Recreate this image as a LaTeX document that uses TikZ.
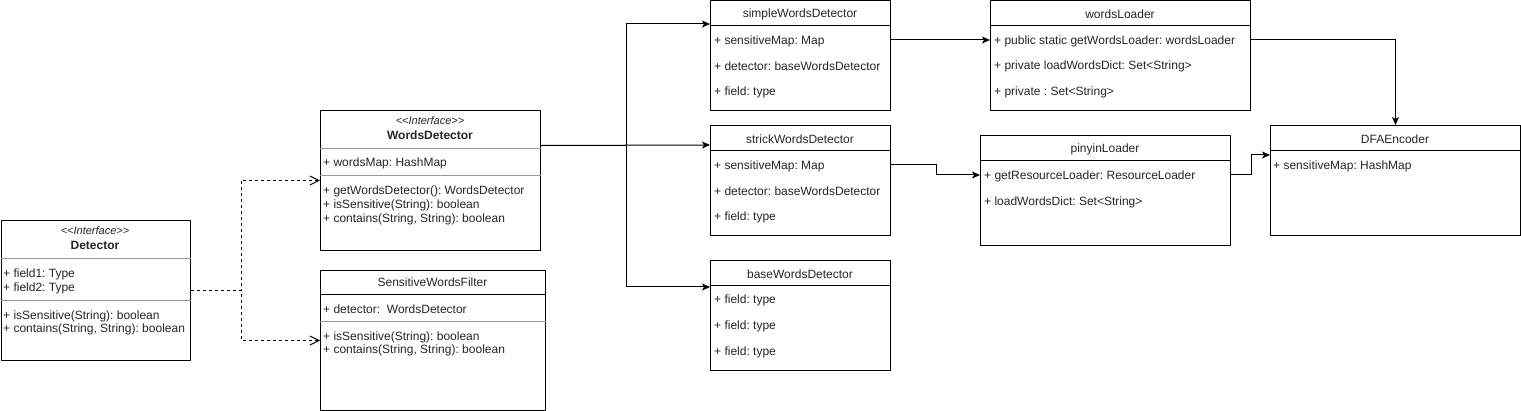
\documentclass[tikz,border=0pt]{standalone}
\usepackage{fontspec}
\setmainfont{Liberation Sans}
\usetikzlibrary{arrows.meta}
\frenchspacing
\begin{document}
\begin{tikzpicture}[x=1pt,y=-1pt,
  box/.style={draw, line width=1pt, fill=white, inner sep=0pt, anchor=north west},
  sepg/.style={draw=black!40, line width=1pt},
  sepb/.style={draw=black, line width=1pt},
  txt/.style={anchor=west, inner sep=0pt, yshift=-1pt, text=black!85, font=\fontsize{12}{14}\selectfont},
  ttl/.style={anchor=center, inner sep=0pt, yshift=-1pt, text=black!85, font=\fontsize{12}{14}\selectfont},
  ster/.style={anchor=center, inner sep=0pt, yshift=-0.5pt, text=black!85, font=\fontsize{11}{13}\selectfont\itshape},
  bttl/.style={anchor=center, inner sep=0pt, yshift=-1pt, text=black!85, font=\fontsize{12}{14}\selectfont\bfseries},
  dep/.style={draw, line width=1pt, dash pattern=on 3pt off 3pt, -{Straight Barb[length=9pt,width=9pt,line width=1pt]}},
  assoc/.style={draw, line width=1pt, -{Stealth[length=8pt,width=7pt,inset=2pt]}}]
\useasboundingbox (0,0) rectangle (1521,411);

% ---------- boxes ----------
\node[box, minimum width=189.5pt, minimum height=140pt] (det) at (0.5,220) {};
\node[box, minimum width=220pt, minimum height=140pt] (wd) at (320,110) {};
\node[box, minimum width=225pt, minimum height=140pt] (swf) at (320,270) {};
\node[box, minimum width=180pt, minimum height=109.5pt] (swd) at (710,0.5) {};
\node[box, minimum width=180pt, minimum height=110pt] (skd) at (710,125) {};
\node[box, minimum width=180pt, minimum height=110pt] (bwd) at (710,260) {};
\node[box, minimum width=260pt, minimum height=109.5pt] (wl) at (990,0.5) {};
\node[box, minimum width=250pt, minimum height=110pt] (pl) at (980,135) {};
\node[box, minimum width=250pt, minimum height=110pt] (dfa) at (1270,125) {};

% ---------- separators ----------
\draw[sepg] (det.west |- 0,259) -- (det.east |- 0,259);
\draw[sepg] (det.west |- 0,301) -- (det.east |- 0,301);
\draw[sepg] (wd.west |- 0,149) -- (wd.east |- 0,149);
\draw[sepg] (wd.west |- 0,176) -- (wd.east |- 0,176);
\draw[sepb] (swf.west |- 0,295) -- (swf.east |- 0,295);
\draw[sepg] (swf.west |- 0,322) -- (swf.east |- 0,322);
\draw[sepb] (swd.west |- 0,26) -- (swd.east |- 0,26);
\draw[sepb] (skd.west |- 0,151) -- (skd.east |- 0,151);
\draw[sepb] (bwd.west |- 0,286) -- (bwd.east |- 0,286);
\draw[sepb] (wl.west |- 0,26) -- (wl.east |- 0,26);
\draw[sepb] (pl.west |- 0,161) -- (pl.east |- 0,161);
\draw[sepb] (dfa.west |- 0,151) -- (dfa.east |- 0,151);

% ---------- Detector ----------
\node[ster] (detS) at (95,230) {{<}{<}Interface{>}{>}};
\node[bttl] (detT) at (95,244) {Detector};
\node[txt] (det1) at (3,273) {+ field1: Type};
\node[txt] (det2) at (3,287) {+ field2: Type};
\node[txt] (det3) at (3,315) {+ isSensitive(String): boolean};
\node[txt] (det4) at (3,328) {+ contains(String, String): boolean};

% ---------- WordsDetector ----------
\node[ster] (wdS) at (430,120) {{<}{<}Interface{>}{>}};
\node[bttl] (wdT) at (430,134) {WordsDetector};
\node[txt] (wd1) at (323,162) {+ wordsMap: HashMap};
\node[txt] (wd2) at (323,190) {+ getWordsDetector(): WordsDetector};
\node[txt] (wd3) at (323,204) {+ isSensitive(String): boolean};
\node[txt] (wd4) at (323,218) {+ contains(String, String): boolean};

% ---------- SensitiveWordsFilter ----------
\node[ttl] (swfT) at (432.5,281) {SensitiveWordsFilter};
\node[txt] (swf1) at (323,308) {+ detector:\ \ WordsDetector};
\node[txt] (swf2) at (323,336) {+ isSensitive(String): boolean};
\node[txt] (swf3) at (323,349) {+ contains(String, String): boolean};

% ---------- simpleWordsDetector ----------
\node[ttl] (swdT) at (800,13) {simpleWordsDetector};
\node[txt] (swd1) at (714,40) {+ sensitiveMap: Map};
\node[txt] (swd2) at (714,65) {+ detector: baseWordsDetector};
\node[txt] (swd3) at (714,91) {+ field: type};

% ---------- strickWordsDetector ----------
\node[ttl] (skdT) at (800,138) {strickWordsDetector};
\node[txt] (skd1) at (714,165) {+ sensitiveMap: Map};
\node[txt] (skd2) at (714,190) {+ detector: baseWordsDetector};
\node[txt] (skd3) at (714,216) {+ field: type};

% ---------- baseWordsDetector ----------
\node[ttl] (bwdT) at (800,273) {baseWordsDetector};
\node[txt] (bwd1) at (714,299) {+ field: type};
\node[txt] (bwd2) at (714,325) {+ field: type};
\node[txt] (bwd3) at (714,351) {+ field: type};

% ---------- wordsLoader ----------
\node[ttl] (wlT) at (1120,13) {wordsLoader};
\node[txt] (wl1) at (994,40) {+ public static getWordsLoader: wordsLoader};
\node[txt] (wl2) at (994,65) {+ private loadWordsDict: Set<String>};
\node[txt] (wl3) at (994,91) {+ private : Set<String>};

% ---------- pinyinLoader ----------
\node[ttl] (plT) at (1105,148) {pinyinLoader};
\node[txt] (pl1) at (984,175) {+ getResourceLoader: ResourceLoader};
\node[txt] (pl2) at (984,201) {+ loadWordsDict: Set<String>};

% ---------- DFAEncoder ----------
\node[ttl] (dfaT) at (1395,138) {DFAEncoder};
\node[txt] (dfa1) at (1273,165) {+ sensitiveMap: HashMap};

% ---------- connectors ----------
\draw[dep] (det.east) -- ++(50,0) |- (wd.west);
\draw[dep] (det.east) -- ++(50,0) |- (swf.west);
\draw[assoc] ([yshift=35pt]wd.east) -- ++(85,0) |- ([yshift=-23.5pt]swd.north west);
\draw[assoc] ([yshift=35pt]wd.east) -- ([yshift=-20pt]skd.north west);
\draw[assoc] ([yshift=35pt]wd.east) -- ++(85,0) |- ([yshift=-27pt]bwd.north west);
\draw[assoc] ([yshift=-39.5pt]swd.north east) -- ([yshift=-39.5pt]wl.north west);
\draw[assoc] ([yshift=-39.5pt]wl.north east) -| (dfa.north);
\draw[assoc] ([yshift=-40pt]skd.north east) -- ++(45,0) |- ([yshift=-40pt]pl.north west);
\draw[assoc] ([yshift=-40pt]pl.north east) -- ++(20,0) |- ([yshift=-30pt]dfa.north west);
\end{tikzpicture}
\end{document}
